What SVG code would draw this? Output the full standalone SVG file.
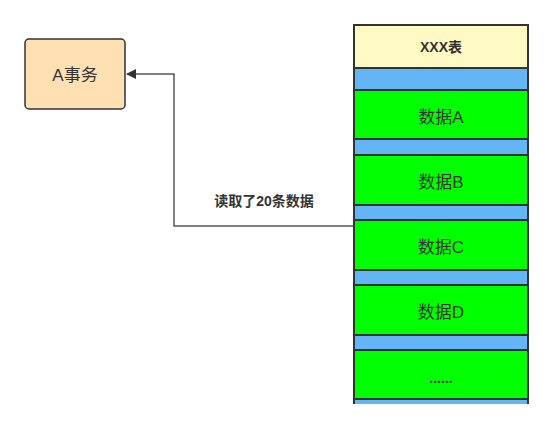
<svg xmlns="http://www.w3.org/2000/svg" width="554" height="428" viewBox="0 0 554 428">
<style>
.cell{stroke:#333;stroke-width:2}
.g{fill:#00ff00}
.b{fill:#64b5f6}
.t{font-family:"Liberation Sans","Noto Sans CJK SC",sans-serif;fill:#333;text-anchor:middle;dominant-baseline:central}
.big{font-size:17px}
.bold{font-size:14px;font-weight:bold}
</style>
<defs>
<marker id="arr" markerWidth="10" markerHeight="10" refX="9" refY="5" orient="auto" markerUnits="userSpaceOnUse">
<path d="M0,0 L10,5 L0,10 Z" fill="#333"/>
</marker>
</defs>
<rect width="554" height="428" fill="#fff"/>
<g id="connectors">
<polyline points="354,226 174,226 174,74 127,74" fill="none" stroke="#555" stroke-width="1.5" marker-end="url(#arr)"/>
<text class="t bold" x="264" y="201">读取了20条数据</text>
</g>
<g id="a-txn">
<rect x="25" y="39" width="100" height="70" rx="4" fill="#ffe0b2" stroke="#333" stroke-width="1.5"/>
<text class="t big" x="75" y="75">A事务</text>
</g>
<g id="table">
<rect class="cell b" x="354" y="399" width="174" height="10"/>
<rect class="cell" x="354" y="25" width="174" height="43" fill="#fff9c4"/>
<text class="t bold" x="441" y="47">XXX表</text>
<rect class="cell b" x="354" y="68" width="174" height="22"/>
<rect class="cell g" x="354" y="90" width="174" height="49"/>
<text class="t big" x="441" y="117">数据A</text>
<rect class="cell b" x="354" y="139" width="174" height="16"/>
<rect class="cell g" x="354" y="155" width="174" height="50"/>
<text class="t big" x="441" y="182">数据B</text>
<rect class="cell b" x="354" y="205" width="174" height="15"/>
<rect class="cell g" x="354" y="220" width="174" height="50"/>
<text class="t big" x="441" y="247">数据C</text>
<rect class="cell b" x="354" y="270" width="174" height="15"/>
<rect class="cell g" x="354" y="285" width="174" height="50"/>
<text class="t big" x="441" y="312">数据D</text>
<rect class="cell b" x="354" y="335" width="174" height="15"/>
<rect class="cell g" x="354" y="350" width="174" height="49"/>
<text class="t" x="441" y="378" font-size="14" font-weight="bold">......</text>
</g>
<rect x="340" y="404" width="214" height="24" fill="#fff"/>
</svg>
